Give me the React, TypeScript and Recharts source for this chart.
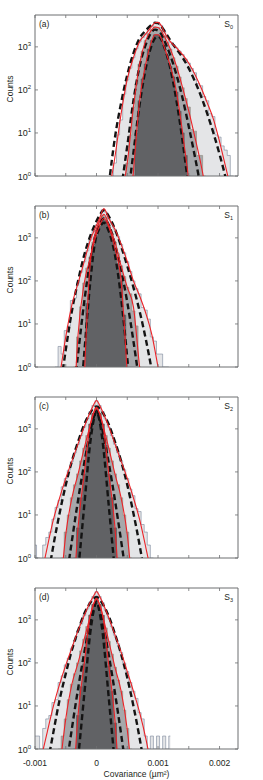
import React from "react"
import { ComposedChart, Area, Line, XAxis, YAxis, ReferenceArea } from "recharts"

// histogram bin width (µm²) and axis setup
const BIN = 0.00005
const X_DOMAIN: [number, number] = [-0.001, 0.0023]
const Y_DOMAIN: [number, number] = [1, 5500]
const X_TICKS = [-0.001, -0.0005, 0, 0.0005, 0.001, 0.0015, 0.002]
const Y_TICKS = [1, 10, 100, 1000]
const EMPTY = 0.5 // empty bins drop below the log floor

// ---- panel (a), S0 ----
const aCurveX = [0.0002, 0.0003, 0.0004, 0.0005, 0.0006, 0.0007, 0.0008, 0.0009, 0.00095, 0.001, 0.00105, 0.0011, 0.0012, 0.0013, 0.0014, 0.0015, 0.0016, 0.0017, 0.0018, 0.0019, 0.002, 0.0021, 0.0022, 0.0023]
const aRedLight = [0.4, 2.8, 28, 178, 562, 1318, 1995, 3020, 3631, 3715, 3162, 2239, 1318, 955, 661, 417, 229, 112, 50, 21, 6.3, 1.6, 0.4, 0.08]
const aDashLight = [0.63, 7.9, 50, 224, 708, 1585, 2399, 3311, 3631, 3548, 3020, 2399, 1413, 891, 562, 316, 158, 71, 28, 10, 3.2, 0.9, 0.2, 0.04]
const aRedMid = [null, null, 0.32, 2, 40, 398, 1413, 2512, 2884, 2818, 2399, 1778, 891, 355, 112, 32, 7.9, 1.8, 0.32, null, null, null, null, null]
const aDashMid = [null, null, 0.5, 5, 56, 355, 1122, 2239, 2512, 2399, 1995, 1413, 631, 224, 63, 14, 2.8, 0.5, null, null, null, null, null, null]
const aRedDark = [null, null, null, 0.03, 1.26, 56, 398, 1413, 1905, 1905, 1585, 1000, 355, 89, 10, 0.8, 0.06, null, null, null, null, null, null, null]
const aDashDark = [null, null, null, 0.25, 3.5, 45, 316, 1122, 1585, 1738, 1514, 1000, 316, 56, 6.3, 0.5, null, null, null, null, null, null, null, null]
const aHistStart = 0.0002
const aHistLight = [0, 1, 2, 9, 20, 80, 170, 320, 560, 900, 1300, 1650, 2000, 2500, 3000, 3600, 3700, 3150, 2250, 1650, 1300, 1120, 950, 800, 660, 520, 420, 315, 250, 140, 125, 70, 56, 28, 24, 9, 8, 5, 4, 3, 1, 0, 0]
const aHistMid = [0, 0, 0, 0, 0, 1, 2, 9, 40, 140, 400, 800, 1400, 2000, 2500, 2880, 2820, 2400, 1780, 1260, 890, 560, 355, 200, 112, 63, 40, 12, 11, 3, 3, 1, 0, 0, 0, 0, 0, 0, 0, 0, 0, 0, 0]
const aHistDark = [0, 0, 0, 0, 0, 0, 0, 0, 1, 10, 56, 180, 400, 890, 1410, 1900, 1900, 1580, 1000, 630, 355, 200, 89, 32, 10, 3, 1, 0, 0, 0, 0, 0, 0, 0, 0, 0, 0, 0, 0, 0, 0, 0, 0]

// ---- panel (b), S1 ----
const bCurveX = [-0.0007, -0.0006, -0.0005, -0.0004, -0.0003, -0.0002, -0.0001, -0.00003, 0.00004, 0.00012, 0.0002, 0.0003, 0.0004, 0.0005, 0.0006, 0.0007, 0.0008, 0.0009, 0.001, 0.0011]
const bRedLight = [0.13, 0.63, 5, 28, 89, 282, 891, 1585, 2630, 4786, 2818, 1585, 708, 282, 100, 45, 18, 5.6, 1, 0.16]
const bDashLight = [0.025, 0.25, 2.5, 20, 100, 398, 1122, 1995, 3162, 4365, 3162, 1585, 631, 224, 71, 20, 4.5, 0.8, 0.1, null]
const bRedMid = [null, null, null, 0.01, 5.6, 89, 355, 1122, 2239, 3548, 1995, 794, 224, 71, 25, 1, 0.06, null, null, null]
const bDashMid = [null, null, null, 0.1, 2, 32, 316, 1000, 1995, 2818, 1995, 708, 178, 32, 4, 0.4, null, null, null, null]
const bRedDark = [null, null, null, null, null, 0.5, 282, 891, 1778, 2818, 1778, 562, 100, 0.63, null, null, null, null, null, null]
const bDashDark = [null, null, null, null, 0.03, 2, 100, 708, 1585, 2239, 1413, 398, 40, 1.6, 0.03, null, null, null, null, null]
const bHistStart = -0.0008
const bHistLight = [0, 0, 0, 1, 3, 2, 7, 9, 35, 40, 90, 160, 280, 500, 890, 1400, 2000, 2800, 4500, 4000, 2800, 2100, 1580, 1070, 700, 450, 280, 166, 100, 66, 50, 24, 21, 13, 5, 4, 2, 2, 1, 1, 0]
const bHistMid = [0, 0, 0, 0, 0, 0, 0, 0, 0, 1, 5, 25, 89, 200, 355, 800, 1400, 2350, 3300, 3000, 2000, 1260, 800, 430, 224, 126, 71, 50, 20, 9, 1, 0, 0, 0, 0, 0, 0, 0, 0, 0, 0]
const bHistDark = [0, 0, 0, 0, 0, 0, 0, 0, 0, 0, 0, 0, 1, 30, 280, 630, 1120, 1860, 2700, 2500, 1780, 1050, 560, 250, 100, 16, 0, 0, 0, 0, 0, 0, 0, 0, 0, 0, 0, 0, 0, 0, 0]

// ---- panel (c), S2 ----
const cCurveX = [-0.001, -0.0009, -0.0008, -0.0007, -0.0006, -0.0005, -0.0004, -0.0003, -0.0002, -0.0001, -0.00005, 0, 0.00005, 0.0001, 0.0002, 0.0003, 0.0004, 0.0005, 0.0006, 0.0007, 0.0008, 0.0009, 0.001]
const cRedLight = [0.04, 0.35, 1.8, 7.9, 25, 71, 178, 447, 1122, 2512, 3548, 4571, 3548, 2512, 1122, 447, 178, 71, 25, 7.9, 1.8, 0.35, 0.04]
const cDashLight = [null, 0.025, 0.28, 2, 11, 50, 178, 501, 1259, 2399, 3020, 3311, 3020, 2399, 1259, 501, 178, 50, 11, 2, 0.28, 0.025, null]
const cRedMid = [null, null, null, null, 0.1, 3.5, 25, 89, 355, 1259, 2239, 3162, 2239, 1259, 355, 89, 25, 3.5, 0.1, null, null, null, null]
const cDashMid = [null, null, null, null, 0.016, 0.25, 2.5, 22, 158, 891, 1778, 2630, 1778, 891, 158, 22, 2.5, 0.25, 0.016, null, null, null, null]
const cRedDark = [null, null, null, null, null, null, 0.03, 5, 89, 1300, 2300, 3000, 2300, 1300, 89, 5, 0.03, null, null, null, null, null, null]
const cDashDark = [null, null, null, null, null, null, 0.03, 0.5, 16, 500, 1500, 2600, 1500, 500, 16, 0.5, 0.03, null, null, null, null, null, null]
const cHistStart = -0.001
const cHistLight = [2, 1, 0, 2, 3, 4, 8, 15, 22, 45, 70, 110, 175, 280, 440, 700, 1100, 1700, 2500, 3500, 4500, 3500, 2500, 1700, 1100, 700, 440, 280, 178, 112, 70, 40, 28, 14, 12, 6, 4, 2, 1, 0, 0]
const cHistMid = [0, 0, 0, 0, 0, 0, 0, 0, 0, 1, 4, 10, 25, 50, 90, 180, 355, 700, 1260, 2240, 3160, 2240, 1260, 700, 355, 180, 90, 50, 25, 10, 4, 1, 0, 0, 0, 0, 0, 0, 0, 0, 0]
const cHistDark = [0, 0, 0, 0, 0, 0, 0, 0, 0, 0, 0, 0, 0, 1, 5, 25, 89, 420, 1300, 2300, 3000, 2300, 1300, 420, 89, 25, 5, 1, 0, 0, 0, 0, 0, 0, 0, 0, 0, 0, 0, 0, 0]

// ---- panel (d), S3 ----
const dCurveX = [-0.001, -0.0009, -0.0008, -0.0007, -0.0006, -0.0005, -0.0004, -0.0003, -0.0002, -0.0001, -0.00005, 0, 0.00005, 0.0001, 0.0002, 0.0003, 0.0004, 0.0005, 0.0006, 0.0007, 0.0008, 0.0009, 0.001]
const dRedLight = [0.06, 0.56, 2.5, 10, 32, 89, 224, 562, 1259, 2630, 3548, 4571, 3548, 2512, 1122, 447, 178, 63, 22, 7.1, 1.8, 0.32, 0.04]
const dDashLight = [null, 0.04, 0.4, 2.5, 14, 56, 200, 562, 1380, 2512, 3090, 3388, 3020, 2344, 1200, 470, 160, 45, 10, 1.8, 0.25, 0.02, null]
const dRedMid = [null, null, null, null, 0.32, 5, 32, 100, 355, 1259, 2239, 3162, 2239, 1259, 316, 79, 22, 2.8, 0.1, null, null, null, null]
const dDashMid = [null, null, null, null, 0.02, 0.3, 3, 25, 170, 900, 1800, 2650, 1780, 880, 150, 20, 2.2, 0.2, 0.01, null, null, null, null]
const dRedDark = [null, null, null, null, null, null, 0.04, 6, 95, 1300, 2300, 3050, 2280, 1280, 85, 4.5, 0.03, null, null, null, null, null, null]
const dDashDark = [null, null, null, null, null, null, 0.03, 0.6, 18, 520, 1520, 2650, 1500, 490, 15, 0.45, 0.02, null, null, null, null, null, null]
const dHistStart = -0.001
const dHistLight = [2, 2, 1, 3, 5, 6, 12, 14, 35, 50, 90, 130, 220, 340, 560, 800, 1260, 1800, 2600, 3500, 4500, 3500, 2500, 1700, 1100, 700, 440, 280, 175, 100, 63, 35, 22, 15, 7, 5, 2, 1, 2, 1, 2, 0, 2, 1, 2]
const dHistMid = [0, 0, 0, 0, 0, 0, 0, 0, 1, 2, 5, 14, 32, 56, 100, 190, 355, 700, 1260, 2240, 3160, 2240, 1260, 650, 316, 160, 79, 40, 22, 8, 3, 1, 0, 0, 0, 0, 0, 0, 0, 0, 0, 0, 0, 0, 0]
const dHistDark = [0, 0, 0, 0, 0, 0, 0, 0, 0, 0, 0, 0, 0, 1, 6, 28, 95, 430, 1300, 2300, 3050, 2280, 1280, 400, 85, 22, 4, 1, 0, 0, 0, 0, 0, 0, 0, 0, 0, 0, 0, 0, 0, 0, 0, 0, 0]

const PANELS = [
  { tag: "(a)", sub: "0", curveX: aCurveX, redLight: aRedLight, dashLight: aDashLight, redMid: aRedMid, dashMid: aDashMid, redDark: aRedDark, dashDark: aDashDark, histStart: aHistStart, light: aHistLight, mid: aHistMid, dark: aHistDark },
  { tag: "(b)", sub: "1", curveX: bCurveX, redLight: bRedLight, dashLight: bDashLight, redMid: bRedMid, dashMid: bDashMid, redDark: bRedDark, dashDark: bDashDark, histStart: bHistStart, light: bHistLight, mid: bHistMid, dark: bHistDark },
  { tag: "(c)", sub: "2", curveX: cCurveX, redLight: cRedLight, dashLight: cDashLight, redMid: cRedMid, dashMid: cDashMid, redDark: cRedDark, dashDark: cDashDark, histStart: cHistStart, light: cHistLight, mid: cHistMid, dark: cHistDark },
  { tag: "(d)", sub: "3", curveX: dCurveX, redLight: dRedLight, dashLight: dDashLight, redMid: dRedMid, dashMid: dDashMid, redDark: dRedDark, dashDark: dDashDark, histStart: dHistStart, light: dHistLight, mid: dHistMid, dark: dHistDark },
]

const FONT = '"Liberation Sans", Arial, sans-serif'
const TEXT = "#231f20"
const FRAME = "#6d6e71"
const LIGHT_FILL = "#e4e5e7"
const LIGHT_EDGE = "#7a879a"
const MID_FILL = "#a6a8ab"
const MID_EDGE = "#8f8a7c"
const DARK_FILL = "#616265"
const DARK_EDGE = "#56575a"
const RED = "#ec2227"
const DASH = "#141414"

const PLOT_TOP = 15
const PLOT_BOTTOM = 176
const PLOT_LEFT = 35
const PLOT_RIGHT = 238
const TICK = 3

function XTick(props: any) {
  const { x, payload, last } = props
  const v = payload.value
  const whole = Math.abs(v * 1000 - Math.round(v * 1000)) < 1e-9
  const label = v === 0 ? "0" : v.toFixed(3)
  return (
    <g>
      <line x1={x} x2={x} y1={PLOT_BOTTOM} y2={PLOT_BOTTOM - TICK} stroke={FRAME} strokeWidth={0.8} />
      <line x1={x} x2={x} y1={PLOT_TOP} y2={PLOT_TOP + TICK} stroke={FRAME} strokeWidth={0.8} />
      {last && whole && (
        <text x={x} y={PLOT_BOTTOM + 17} textAnchor="middle" fontSize={8.5} fill={TEXT} fontFamily={FONT}>{label}</text>
      )}
    </g>
  )
}

function YTick(props: any) {
  const { y, payload } = props
  const e = Math.round(Math.log10(payload.value))
  return (
    <g>
      <line x1={PLOT_LEFT} x2={PLOT_LEFT + TICK} y1={y} y2={y} stroke={FRAME} strokeWidth={0.8} />
      <line x1={PLOT_RIGHT} x2={PLOT_RIGHT - TICK} y1={y} y2={y} stroke={FRAME} strokeWidth={0.8} />
      <text x={31} y={y + 3.5} textAnchor="end" fontSize={9} fill={TEXT} fontFamily={FONT}>
        10<tspan dy={-4} fontSize={6}>{e}</tspan>
      </text>
    </g>
  )
}

function Panel({ p, last }: { p: any; last: boolean }) {
  const hist = (counts: number[]) =>
    counts.map((c, i) => ({ x: +(p.histStart + i * BIN).toFixed(6), y: c > 0 ? c : EMPTY }))
  const curve = (ys: (number | null)[]) => p.curveX.map((x: number, i: number) => ({ x, y: ys[i] }))
  const dash = { type: "monotone" as const, stroke: DASH, strokeWidth: 2.4, strokeDasharray: "6 3.5", dot: false, isAnimationActive: false }
  const red = { type: "monotone" as const, stroke: RED, strokeWidth: 1.1, dot: false, isAnimationActive: false }

  return (
    <ComposedChart width={263} height={last ? 207 : 191} margin={{ top: 15, right: 25, bottom: 0, left: 0 }}>
      <XAxis
        type="number"
        dataKey="x"
        domain={X_DOMAIN}
        allowDataOverflow
        ticks={X_TICKS}
        interval={0}
        height={last ? 31 : 15}
        axisLine={false}
        tickLine={false}
        tick={(t: any) => <XTick {...t} last={last} />}
      />
      <YAxis
        type="number"
        scale="log"
        domain={Y_DOMAIN}
        allowDataOverflow
        ticks={Y_TICKS}
        interval={0}
        width={35}
        axisLine={false}
        tickLine={false}
        tick={(t: any) => <YTick {...t} />}
      />
      <Area data={hist(p.light)} dataKey="y" type="step" baseValue={1} fill={LIGHT_FILL} fillOpacity={1} stroke={LIGHT_EDGE} strokeWidth={0.6} isAnimationActive={false} />
      <Area data={hist(p.mid)} dataKey="y" type="step" baseValue={1} fill={MID_FILL} fillOpacity={1} stroke={MID_EDGE} strokeWidth={0.6} isAnimationActive={false} />
      <Area data={hist(p.dark)} dataKey="y" type="step" baseValue={1} fill={DARK_FILL} fillOpacity={1} stroke={DARK_EDGE} strokeWidth={0.6} isAnimationActive={false} />

      <Line data={curve(p.dashLight)} dataKey="y" {...dash} />
      <Line data={curve(p.dashMid)} dataKey="y" {...dash} />
      <Line data={curve(p.dashDark)} dataKey="y" {...dash} />
      <Line data={curve(p.redLight)} dataKey="y" {...red} />
      <Line data={curve(p.redMid)} dataKey="y" {...red} />
      <Line data={curve(p.redDark)} dataKey="y" {...red} />

      <ReferenceArea x1={X_DOMAIN[0]} x2={X_DOMAIN[1]} y1={Y_DOMAIN[0]} y2={Y_DOMAIN[1]} fill="none" fillOpacity={0} stroke={FRAME} strokeWidth={1} />
    </ComposedChart>
  )
}

const txt = { position: "absolute" as const, fontFamily: FONT, fontSize: 8.5, lineHeight: 1, color: TEXT, whiteSpace: "nowrap" as const }

export default function App() {
  return (
    <div style={{ position: "absolute", left: 0, top: 0, width: 263, height: 780, background: "#fff" }}>
      {PANELS.map((p, i) => (
        <Panel key={p.tag} p={p} last={i === PANELS.length - 1} />
      ))}
      {PANELS.map((p, i) => (
        <React.Fragment key={"t" + p.tag}>
          <div style={{ ...txt, left: 39, top: i * 191 + 19.5 }}>{p.tag}</div>
          <div style={{ ...txt, right: 30, top: i * 191 + 19.5 }}>
            S<span style={{ fontSize: 5.5, verticalAlign: -1.5 }}>{p.sub}</span>
          </div>
          <div style={{ ...txt, left: 10, top: i * 191 + 88.5, transform: "translate(-50%, -50%) rotate(-90deg)" }}>Counts</div>
        </React.Fragment>
      ))}
      <div style={{ ...txt, left: 136.5, top: 774, transform: "translate(-50%, -50%)" }}>Covariance (µm²)</div>
    </div>
  )
}
